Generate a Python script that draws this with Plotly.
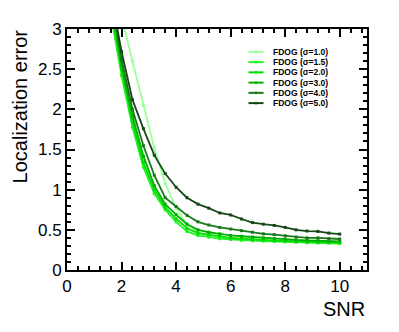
import plotly.graph_objects as go

# SNR sampling points
snr = [1.6, 2.0, 2.4, 2.8, 3.2, 3.6, 4.0, 4.4, 4.8, 5.2, 5.6, 6.0, 6.4, 6.8,
       7.2, 7.6, 8.0, 8.4, 8.8, 9.2, 9.6, 10.0]

# localization error for each sigma
err_s10 = [3.75, 3.15, 2.6, 2.05, 1.52, 1.08, 0.77, 0.57, 0.47, 0.43, 0.41, 0.395,
           0.385, 0.375, 0.365, 0.36, 0.355, 0.35, 0.345, 0.34, 0.338, 0.335]
err_s15 = [3.2, 2.42, 1.78, 1.28, 0.95, 0.75, 0.6, 0.48, 0.43, 0.41, 0.39, 0.38,
           0.37, 0.365, 0.36, 0.355, 0.35, 0.345, 0.34, 0.338, 0.335, 0.33]
err_s20 = [3.3, 2.5, 1.85, 1.34, 1.0, 0.78, 0.64, 0.52, 0.46, 0.44, 0.42, 0.40,
           0.39, 0.38, 0.375, 0.37, 0.36, 0.355, 0.35, 0.345, 0.342, 0.34]
err_s30 = [3.4, 2.55, 1.92, 1.42, 1.05, 0.82, 0.69, 0.57, 0.50, 0.47, 0.45, 0.43,
           0.42, 0.41, 0.40, 0.39, 0.385, 0.375, 0.37, 0.365, 0.36, 0.355]
err_s40 = [3.5, 2.62, 2.0, 1.55, 1.18, 0.9, 0.79, 0.68, 0.6, 0.56, 0.53, 0.51,
           0.49, 0.47, 0.45, 0.44, 0.425, 0.41, 0.40, 0.40, 0.39, 0.386]
err_s50 = [3.45, 2.72, 2.12, 1.76, 1.43, 1.2, 1.03, 0.9, 0.82, 0.77, 0.71, 0.685,
           0.635, 0.59, 0.57, 0.555, 0.53, 0.50, 0.485, 0.48, 0.46, 0.447]

labels = ["FDOG (\u03c3=1.0)", "FDOG (\u03c3=1.5)", "FDOG (\u03c3=2.0)",
          "FDOG (\u03c3=3.0)", "FDOG (\u03c3=4.0)", "FDOG (\u03c3=5.0)"]
colors = ["#99ff99", "#22f022", "#00dd00", "#00b000", "#1a781a", "#164816"]
curves = [err_s10, err_s15, err_s20, err_s30, err_s40, err_s50]

FONT = "Liberation Sans, Arial, sans-serif"

fig = go.Figure()
for name, vals, col in zip(labels, curves, colors):
    fig.add_trace(go.Scatter(
        x=snr, y=vals, name=name, mode="lines+markers",
        line=dict(color=col, width=1.8),
        marker=dict(symbol="square", size=3, color=col),
        showlegend=False,
    ))

# hand-made ROOT style legend (plotly's own legend rows are too tall)
lx0, lx1, ltx = 0.605, 0.655, 0.68
ly_top, ly_step = 0.905, 0.0425
for i, (name, col) in enumerate(zip(labels, colors)):
    yy = ly_top - i * ly_step
    fig.add_shape(type="line", xref="paper", yref="paper",
                  x0=lx0, x1=lx1, y0=yy, y1=yy, line=dict(color=col, width=2))
    fig.add_shape(type="rect", xref="paper", yref="paper",
                  x0=(lx0 + lx1) / 2 - 0.004, x1=(lx0 + lx1) / 2 + 0.004,
                  y0=yy - 0.005, y1=yy + 0.005, line=dict(width=0), fillcolor=col)
    fig.add_annotation(text="<b>" + name + "</b>", xref="paper", yref="paper",
                       x=ltx, y=yy, xanchor="left", yanchor="middle",
                       showarrow=False,
                       font=dict(family=FONT, size=8.5, color="black"))

axis_common = dict(
    showline=True, linecolor="black", linewidth=2, mirror="ticks",
    ticks="inside", ticklen=8, tickwidth=1.5, tickcolor="black",
    showgrid=False, zeroline=False,
    tickfont=dict(family=FONT, size=17, color="black"),
)

fig.update_xaxes(range=[0, 11], dtick=2, tick0=0,
                 minor=dict(ticks="inside", dtick=0.4, ticklen=4, tickcolor="black"),
                 **axis_common)
fig.update_yaxes(range=[0, 3], dtick=0.5, tick0=0,
                 minor=dict(ticks="inside", dtick=0.1, ticklen=4, tickcolor="black"),
                 **axis_common)

fig.add_annotation(text="SNR", xref="paper", yref="paper", x=1.0, y=-0.107,
                   xanchor="right", yanchor="top", showarrow=False,
                   font=dict(family=FONT, size=20, color="black"))
fig.add_annotation(text="Localization error", xref="paper", yref="paper",
                   x=-0.158, y=1.005, xanchor="center", yanchor="top", textangle=-90,
                   showarrow=False,
                   font=dict(family=FONT, size=20, color="black"))

# page body has an 8px margin, so the figure is 8px smaller than the window
fig.update_layout(
    width=391, height=324,
    margin=dict(l=59, r=32, t=18, b=62),
    paper_bgcolor="white", plot_bgcolor="white",
    showlegend=False,
)

fig.write_html("out.html")
